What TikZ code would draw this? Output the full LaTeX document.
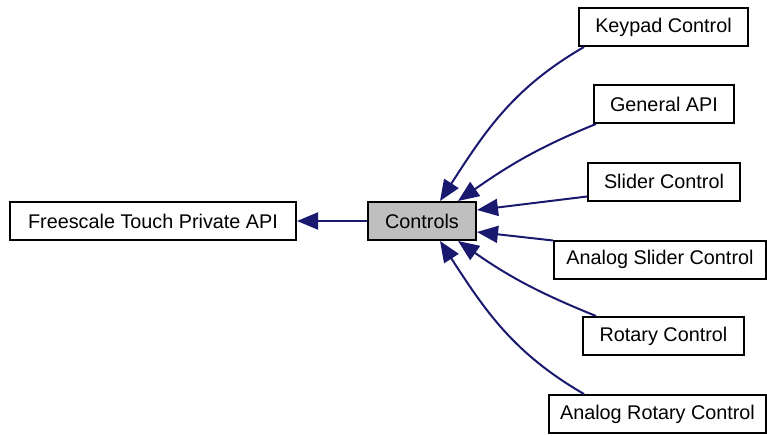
\documentclass[tikz,border=0pt]{standalone}
\usepackage{fontspec}
\setmainfont{Liberation Sans}
\usepackage{tikz}
\usetikzlibrary{calc,arrows.meta}
\usetikzlibrary{positioning}
\definecolor{grp-edge}{HTML}{191970}
\definecolor{grp-fill}{HTML}{BFBFBF}

\begin{document}
\begin{tikzpicture}[x=0.5pt, y=0.5pt, >={Triangle[length=10.5pt,width=8.5pt]},
    grp/.style={draw=black, line width=1pt, fill=white, inner sep=0pt,
        minimum height=19pt, font=\fontsize{9.9}{12}\selectfont},
    dep/.style={grp-edge, line width=1pt, ->}]
    \useasboundingbox (0,0) rectangle (767,435);

    % --- Groups ---
    \node[grp, minimum width=143pt] (fpapi) at (153,214) {Freescale Touch Private API};
    \node[grp, minimum width=54pt, fill=grp-fill] (ctrl) at (422,214) {Controls};
    \node[grp, minimum width=84.5pt] (keypad) at (663.5,408) {Keypad Control};
    \node[grp, minimum width=70pt] (genapi) at (664,331) {General API};
    \node[grp, minimum width=76pt] (slider) at (664,253.5) {Slider Control};
    \node[grp, minimum width=106pt] (aslider) at (660,175.5) {Analog Slider Control};
    \node[grp, minimum width=80.5pt] (rotary) at (663.5,99) {Rotary Control};
    \node[grp, minimum width=108.5pt] (arotary) at (657.5,21) {Analog Rotary Control};

    % --- Dependencies ---
    \draw[dep] (ctrl.west) -- (fpapi.east);
    \draw[dep] ($(keypad.south west)+(6,0)$) to[out=210, in=57] ($(ctrl.north)+(18,0)$);
    \draw[dep] ($(genapi.south west)+(3,0)$) to[out=202, in=35] ($(ctrl.north)+(36,0)$);
    \draw[dep] ($(slider.south west)+(0,5)$) -- ($(ctrl.east)+(0,11)$);
    \draw[dep] ($(aslider.north west)+(0,-1)$) -- ($(ctrl.east)+(0,-11)$);
    \draw[dep] ($(rotary.north west)+(14,0)$) to[out=158, in=-35] ($(ctrl.south)+(36,0)$);
    \draw[dep] ($(arotary.north west)+(36,0)$) to[out=150, in=-57] ($(ctrl.south)+(18,0)$);
\end{tikzpicture}
\end{document}
